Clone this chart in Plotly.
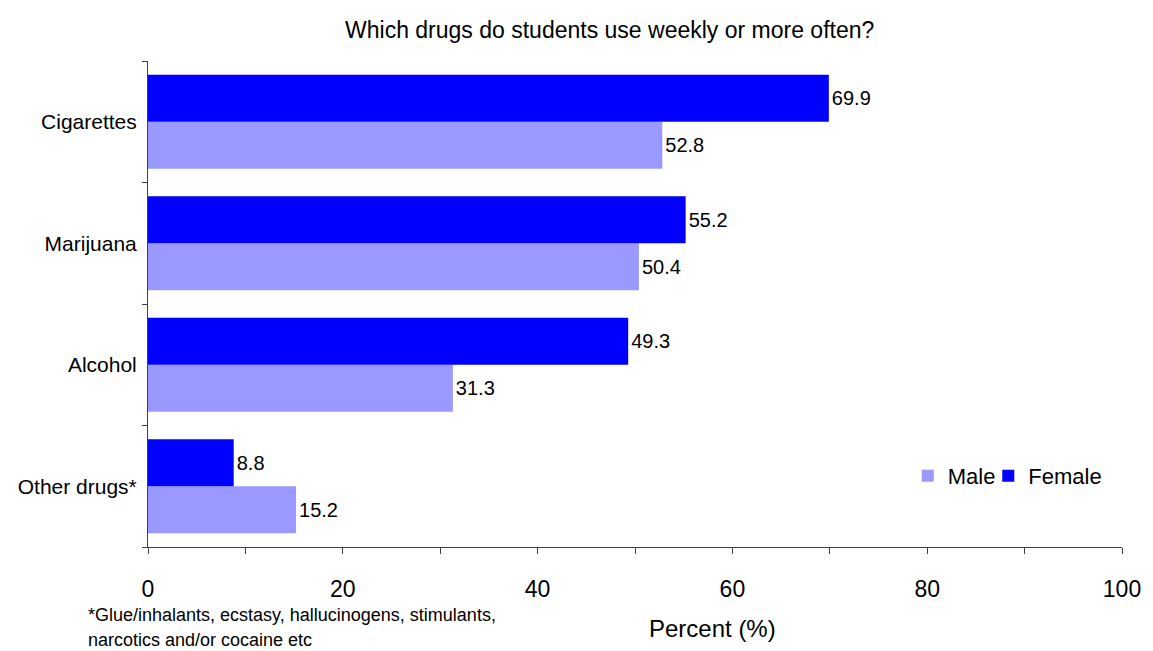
import plotly.graph_objects as go

categories = ["Cigarettes", "Marijuana", "Alcohol", "Other drugs*"]
male = [52.8, 50.4, 31.3, 15.2]
female = [69.9, 55.2, 49.3, 8.8]
x_tickvals = [0, 10, 20, 30, 40, 50, 60, 70, 80, 90, 100]
x_ticktext = ["0", "", "20", "", "40", "", "60", "", "80", "", "100"]

FONT = "Liberation Sans, Arial, sans-serif"

fig = go.Figure()
fig.add_trace(go.Bar(
    y=categories, x=male, name="Male", orientation="h",
    marker=dict(color="#9999FF", line=dict(width=0)),
    text=[f"{v:.1f}" for v in male], textposition="outside",
    textfont=dict(size=20, color="black", family=FONT), cliponaxis=False,
    legend="legend",
))
fig.add_trace(go.Bar(
    y=categories, x=female, name="Female", orientation="h",
    marker=dict(color="#0000FF", line=dict(width=0)),
    text=[f"{v:.1f}" for v in female], textposition="outside",
    textfont=dict(size=20, color="black", family=FONT), cliponaxis=False,
    legend="legend2",
))

legend_common = dict(orientation="h", yanchor="middle", y=0.146, xanchor="left",
                     font=dict(size=22, color="black", family=FONT),
                     bgcolor="rgba(0,0,0,0)", itemwidth=30)

fig.update_layout(
    width=1153, height=651,
    margin=dict(l=148, r=29, t=61, b=104),
    paper_bgcolor="white", plot_bgcolor="white",
    barmode="group", bargap=0.226, bargroupgap=0,
    font=dict(family=FONT, color="black"),
    title=dict(text="Which drugs do students use weekly or more often?",
               x=0.474, xref="paper", xanchor="center",
               y=1 - 30 / 651, yref="container", yanchor="middle",
               font=dict(size=23, color="black", family=FONT)),
    showlegend=True,
    legend=dict(x=0.780, **legend_common),
    legend2=dict(x=0.8627, **legend_common),
)

fig.update_xaxes(
    range=[0, 100], tickmode="array", tickvals=x_tickvals, ticktext=x_ticktext,
    ticks="outside", ticklen=6, tickcolor="#404040", tickwidth=1,
    showline=True, linecolor="#404040", linewidth=1,
    showgrid=False, zeroline=False,
    tickfont=dict(size=23, color="black", family=FONT),
    ticklabelstandoff=15,
)
fig.update_yaxes(
    type="category", categoryorder="array", categoryarray=categories[::-1],
    tickson="boundaries", ticks="outside", ticklen=5, tickcolor="#404040", tickwidth=1,
    showline=True, linecolor="#404040", linewidth=1,
    showgrid=False, zeroline=False,
    tickfont=dict(size=21, color="black", family=FONT),
    ticklabelstandoff=6,
)

fig.add_annotation(text="Percent (%)", xref="paper", yref="paper",
                   x=(714 - 148) / 976, y=(547 - 628) / 486,
                   xanchor="center", yanchor="middle", showarrow=False,
                   font=dict(size=24, color="black", family=FONT))
fig.add_annotation(text="*Glue/inhalants, ecstasy, hallucinogens, stimulants,",
                   xref="paper", yref="paper",
                   x=(86 - 148) / 976, y=(547 - 615) / 486,
                   xanchor="left", yanchor="middle", showarrow=False,
                   font=dict(size=18, color="black", family=FONT))
fig.add_annotation(text="narcotics and/or cocaine etc",
                   xref="paper", yref="paper",
                   x=(86 - 148) / 976, y=(547 - 640) / 486,
                   xanchor="left", yanchor="middle", showarrow=False,
                   font=dict(size=18, color="black", family=FONT))

fig.write_html(
    "out.html",
    config={"displayModeBar": False},
    post_script="document.body.style.margin='0';document.body.style.overflow='hidden';",
)
